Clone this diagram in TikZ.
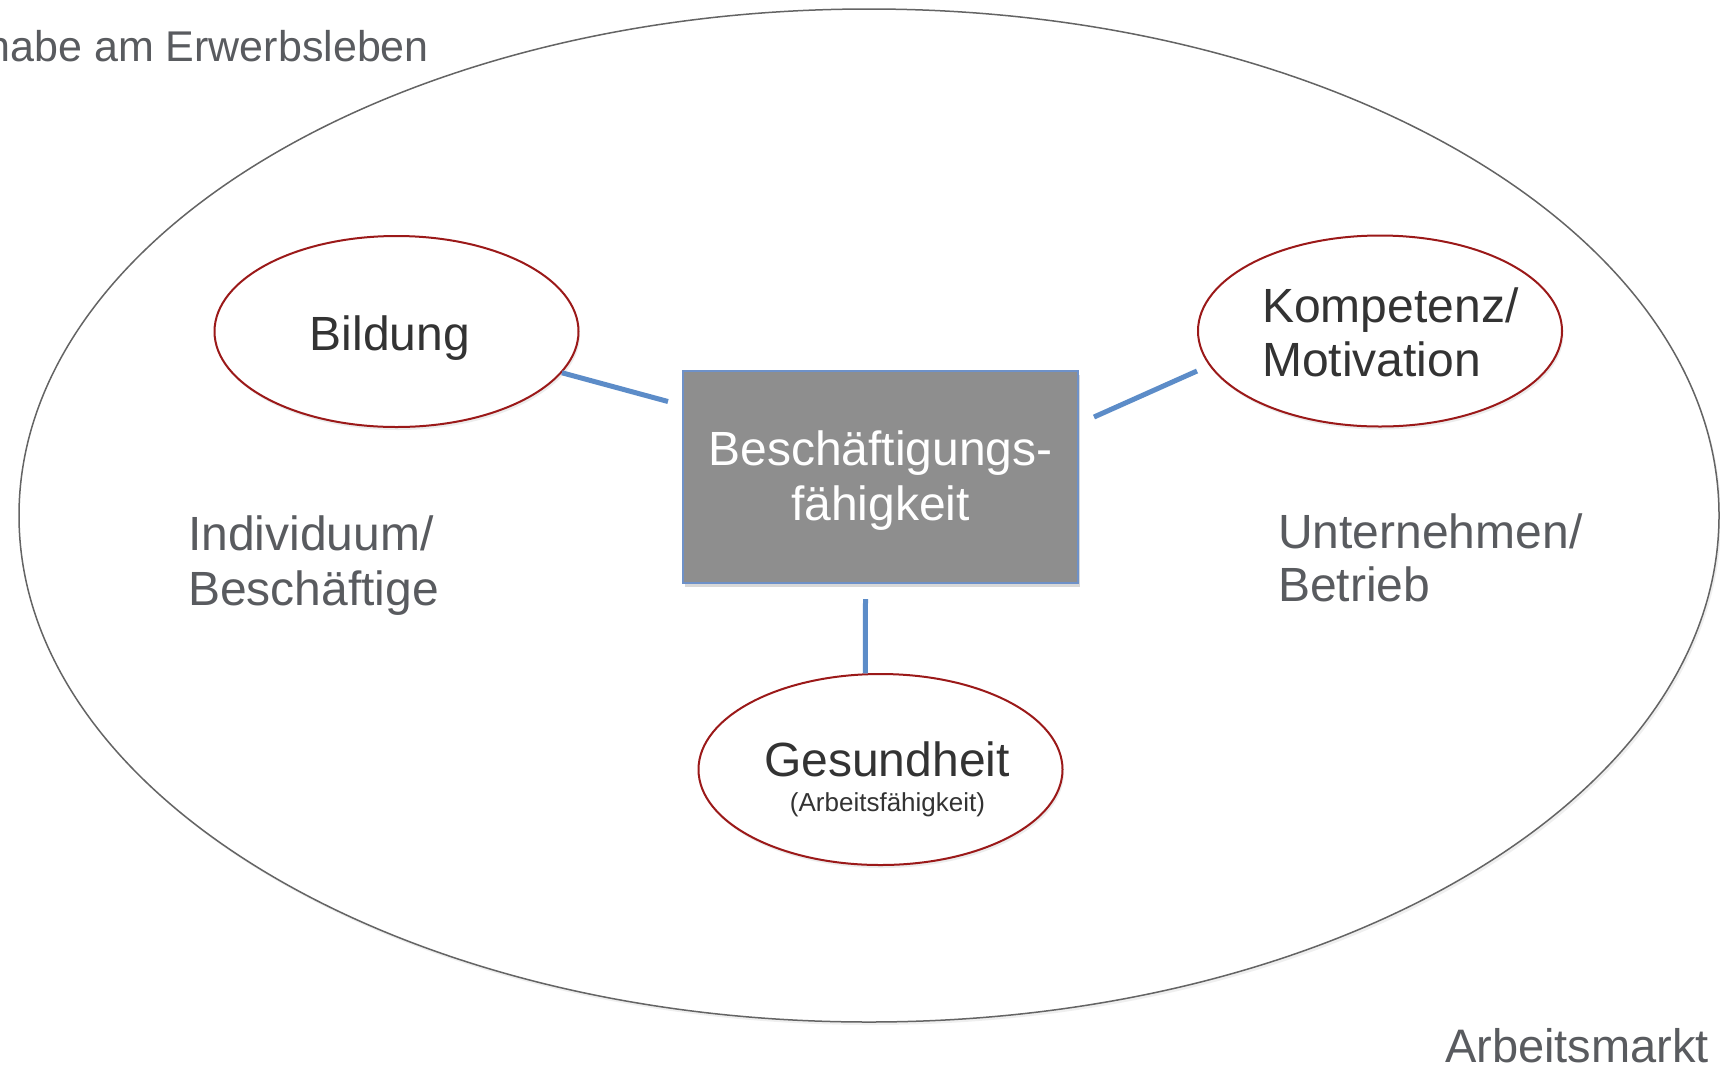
\documentclass[tikz,border=0pt]{standalone}
\usepackage{fontspec}
\setmainfont{Liberation Sans}
\usetikzlibrary{shapes.geometric,shadows}
\definecolor{txtgray}{RGB}{89,91,95}
\definecolor{txtdark}{RGB}{51,51,51}
\definecolor{ellred}{RGB}{155,25,25}
\definecolor{linkblue}{RGB}{92,140,200}
\definecolor{boxfill}{RGB}{142,142,142}
\definecolor{boxedge}{RGB}{110,145,200}
\definecolor{outerline}{RGB}{100,100,100}
\begin{document}
\begin{tikzpicture}[x=1pt,y=-1pt,
  softshadow/.style={drop shadow={opacity=0.15,shadow xshift=1.5pt,shadow yshift=-3pt}},
  factor/.style={ellipse, draw=ellred, line width=2pt, fill=white,
    minimum width=364pt, minimum height=191pt, inner sep=0pt, softshadow},
  link/.style={draw=linkblue, line width=5pt},
  txt/.style={inner sep=0pt, font=\fontsize{48}{54}\selectfont},
  dark/.style={txt, text=txtdark},
  side/.style={txt, text=txtgray, align=left, anchor=base west},
]
\useasboundingbox (0,0) rectangle (1720,1069);
\clip (0,0) rectangle (1720,1069);
\fill[white] (0,0) rectangle (1720,1069);

\node[ellipse, draw=outerline, line width=1.5pt, fill=white,
  minimum width=1700pt, minimum height=1013pt, inner sep=0pt,
  drop shadow={opacity=0.12,shadow xshift=2pt,shadow yshift=-3pt}] (markt) at (869,515.5) {};

\node[side, font=\fontsize{43}{50}\selectfont] (teil) at (-78,61.7) {Teilhabe am Erwerbsleben};
\node[side, font=\fontsize{47}{54}\selectfont] (amarkt) at (1445,1062) {Arbeitsmarkt};

\node[rectangle, draw=boxedge, line width=1.5pt, fill=boxfill,
  minimum width=395pt, minimum height=212pt, inner sep=0pt,
  drop shadow={opacity=0.3,shadow xshift=2pt,shadow yshift=-4pt}] (bf) at (880.5,477) {};
\node[txt, text=white, align=center, font=\fontsize{48}{55}\selectfont, anchor=base] (bftext) at (880.5,520) {Besch\"aftigungs-\\f\"ahigkeit};

\node[factor] (bild) at (396.5,331.5) {};
\node[factor] (komp) at (1380,331) {};
\node[factor] (gesund) at (880.5,769.5) {};

\node[dark, anchor=base west] (bildtext) at (309.5,350) {Bildung};
\node[dark, align=left, anchor=base west] (komptext) at (1262,376.7) {Kompetenz/\\Motivation};
\node[dark, anchor=base] (gestext) at (887,776.7) {Gesundheit};
\node[txt, text=txtdark, font=\fontsize{26}{30}\selectfont, anchor=base] (aftext) at (887.5,811.7) {(Arbeitsf\"ahigkeit)};

\coordinate (cb) at (668,401.5);
\coordinate (ck) at (1094,417);
\coordinate (cg) at (865.5,599);
\draw[link] (cb) -- (bild.-14);
\draw[link] (ck) -- ([yshift=-40pt]komp.west);
\draw[link] (cg) -- (gesund.99);

\node[side, font=\fontsize{48}{55}\selectfont] (indiv) at (188,605) {Individuum/\\Besch\"aftige};
\node[side, font=\fontsize{48}{53}\selectfont] (untern) at (1278,601.7) {Unternehmen/\\Betrieb};
\end{tikzpicture}
\end{document}
